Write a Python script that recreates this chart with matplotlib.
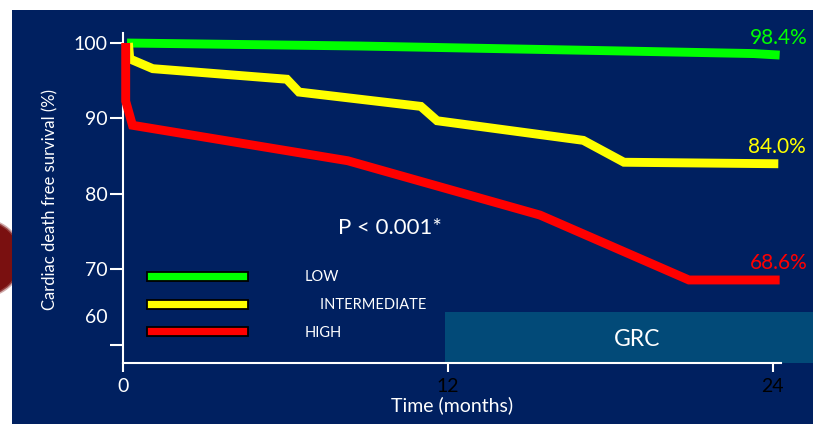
import matplotlib
matplotlib.use("Agg")
import matplotlib.pyplot as plt
from matplotlib.lines import Line2D
from matplotlib.patches import Rectangle, Circle
import matplotlib.patheffects as pe

plt.rcParams['font.family'] = ['Lato', 'DejaVu Sans']

# Kaplan-Meier style survival curves (months, % free of cardiac death)
green_months = [0.15, 8.75, 17.6, 23.3, 24.25]
green_surv = [100.0, 99.6, 99.0, 98.6, 98.4]

yellow_months = [0.2, 0.25, 1.1, 6.05, 6.5, 11.0, 11.6, 17.0, 18.5, 24.2]
yellow_surv = [100.0, 97.9, 96.6, 95.2, 93.5, 91.6, 89.7, 87.1, 84.2, 84.0]

red_months = [0.1, 0.1, 0.35, 8.3, 15.4, 20.9, 24.25]
red_surv = [100.0, 92.3, 89.1, 84.4, 77.2, 68.6, 68.6]

groups = ["LOW", "INTERMEDIATE", "HIGH"]
colors = ["#00ff00", "#ffff00", "#ff0000"]

x_ticks = [0, 12, 24]
x_tick_colors = ["white", "black", "black"]
y_ticks = [60, 70, 80, 90, 100]
y_tick_labels = ["", "70", "80", "90", "100"]

W, H = 813, 424
fig = plt.figure(figsize=(W / 100, H / 100), dpi=100, facecolor="white")

# decorative shape peeking from behind the slide panel
for r, a in [(0.395, 0.35), (0.38, 0.7), (0.365, 1.0)]:
    fig.patches.append(Circle((-0.1675, (H - 258) / 100), r, transform=fig.dpi_scale_trans,
                              facecolor="#7a1010", edgecolor="none", alpha=a, zorder=-3))
fig.patches.append(Rectangle((12 / W, 0), 1 - 12 / W, 1 - 10 / H, transform=fig.transFigure,
                             facecolor="#002060", edgecolor="none", zorder=-2))
# GRC banner
fig.patches.append(Rectangle((445 / W, 1 - 363 / H), (W - 445) / W, (363 - 312) / H,
                             transform=fig.transFigure, facecolor="#024a78",
                             edgecolor="none", zorder=-1))

ax = fig.add_axes([123 / W, 1 - 363 / H, (781 - 123) / W, (363 - 33.2) / H])
ax.set_facecolor("none")
ax.set_xlim(0, 24.3)
ax.set_ylim(57.6, 101.3)

series = [(green_months, green_surv), (yellow_months, yellow_surv), (red_months, red_surv)]
for (m, s), c in zip(series, colors):
    ax.plot(m, s, color=c, lw=6.4, solid_joinstyle="miter", solid_capstyle="butt",
            clip_on=False, zorder=3)
    ax.annotate(f"{s[-1]:.1f}%", xy=(m[-1], s[-1]), xytext=(20, 12),
                textcoords="offset points", ha="right", va="center",
                color=c, fontsize=15, annotation_clip=False)

# legend
handles = [Line2D([], [], color=c, lw=5.2, solid_capstyle="projecting",
                  path_effects=[pe.Stroke(linewidth=7.8, foreground="black"), pe.Normal()])
           for c in colors]
leg_labels = ["LOW", "    INTERMEDIATE", "HIGH"]
leg = ax.legend(handles, leg_labels, loc="upper left", bbox_to_anchor=(0.034, 0.30),
                frameon=False, fontsize=10.5, handlelength=6.3, handletextpad=4.25,
                labelspacing=0.95, borderaxespad=0)
for t in leg.get_texts():
    t.set_color("white")

# axes styling
for side in ["top", "right"]:
    ax.spines[side].set_visible(False)
for side in ["left", "bottom"]:
    ax.spines[side].set_color("white")
    ax.spines[side].set_linewidth(1.5)

ax.set_xticks(x_ticks)
ax.set_xticklabels([str(v) for v in x_ticks])
ax.tick_params(axis="x", colors="white", length=6.5, width=1.5, pad=4, labelsize=14)
for lbl, c in zip(ax.get_xticklabels(), x_tick_colors):
    lbl.set_color(c)

ax.set_yticks(y_ticks)
ax.set_yticklabels(y_tick_labels)
ax.tick_params(axis="y", colors="white", length=9.5, width=1.5, pad=1.5, labelsize=14,
               labelcolor="white")
ax.text(-0.0228, 63.6, "60", transform=ax.get_yaxis_transform(), ha="right", va="center",
        color="white", fontsize=14)

ax.set_xlabel("Time (months)", color="white", fontsize=14, va="center")
ax.xaxis.set_label_coords(0.5, -0.127)
ax.set_ylabel("Cardiac death free survival (%)", color="white", fontsize=12, va="center")
ax.yaxis.set_label_coords(-0.111, 0.497)

ax.text(0.406, 0.409, "P < 0.001*", transform=ax.transAxes, ha="center", va="center",
        color="white", fontsize=16)

fig.text(637 / W, 1 - 339 / H, "GRC", ha="center", va="center", color="white", fontsize=16.5,
         zorder=5)

fig.savefig("out.png", dpi=100, facecolor=fig.get_facecolor())
